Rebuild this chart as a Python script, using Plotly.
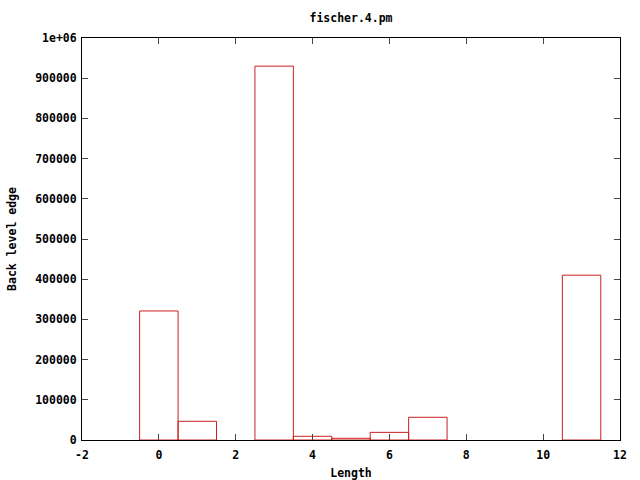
import plotly.graph_objects as go

lengths = [0, 1, 2, 3, 4, 5, 6, 7, 8, 9, 10, 11]
back_level_edge = [321000, 46500, 0, 930000, 9200, 4200, 19000, 56500, 0, 0, 0, 410000]
x_ticks = [-2, 0, 2, 4, 6, 8, 10, 12]
y_ticks = [0, 100000, 200000, 300000, 400000, 500000, 600000, 700000, 800000, 900000, 1000000]
y_tick_labels = ["0", "100000", "200000", "300000", "400000", "500000", "600000", "700000", "800000", "900000", "1e+06"]

font = dict(family="DejaVu Sans Mono", size=11.5, color="black")
line_colors = ["#cc2020" if v > 0 else "rgba(0,0,0,0)" for v in back_level_edge]

fig = go.Figure(go.Bar(
    x=lengths, y=back_level_edge, width=1,
    marker=dict(color="rgba(0,0,0,0)", line=dict(color=line_colors, width=1)),
    hoverinfo="skip",
))

fig.update_layout(
    width=640, height=480,
    margin=dict(l=82, r=20, t=38, b=40, autoexpand=False),
    paper_bgcolor="white", plot_bgcolor="white",
    showlegend=False,
    font=font,
    title=dict(text="<b>fischer.4.pm</b>", x=351/640, xanchor="center", y=1-18/480, yanchor="middle", font=font),
)
fig.update_xaxes(
    range=[-2, 12], tickvals=x_ticks, ticktext=[f"<b>{v}</b>" for v in x_ticks],
    ticks="inside", ticklen=6, mirror="ticks", showline=True, linecolor="black", linewidth=1,
    showgrid=False, zeroline=False, ticklabelstandoff=4,
    title=dict(text="<b>Length</b>", standoff=12, font=font),
)
fig.update_yaxes(
    range=[0, 1000000], tickvals=y_ticks, ticktext=[f"<b>{t}</b>" for t in y_tick_labels],
    ticks="inside", ticklen=6, mirror="ticks", showline=True, linecolor="black", linewidth=1,
    showgrid=False, zeroline=False, ticklabelstandoff=2,
    title=dict(text="<b>Back level edge</b>", standoff=16, font=font),
)

fig.write_html("out.html", config={"displayModeBar": False},
               post_script="document.body.style.margin='0';document.body.style.padding='0';")
